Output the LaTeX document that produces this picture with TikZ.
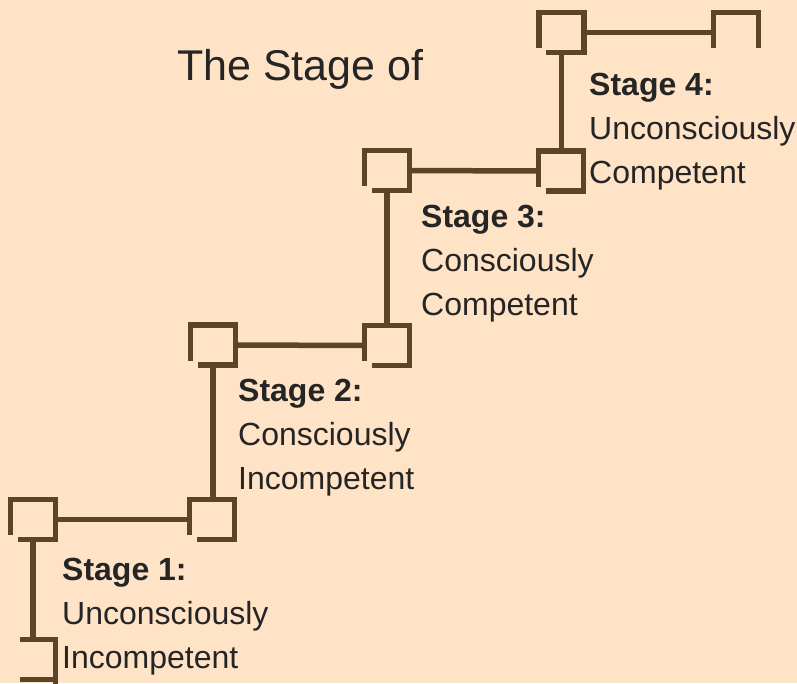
\documentclass[tikz,border=0pt]{standalone}
\usepackage{fontspec}
\setmainfont{Liberation Sans}
\usetikzlibrary{calc}
\definecolor{bgpeach}{HTML}{FFE3C6}
\definecolor{stairbrown}{HTML}{5C4426}
\definecolor{txtgray}{HTML}{252525}
\tikzset{
  sq/.style={draw=none, inner sep=0pt, minimum width=45pt, minimum height=40pt},
  stair/.style={draw=stairbrown, line width=5.5pt, line cap=rect},
  link/.style={draw=stairbrown, line width=5.5pt},
  lbl/.style={anchor=base west, inner sep=0pt, text=txtgray, font=\fontsize{32}{38}\selectfont},
  lblb/.style={lbl, font=\fontsize{32}{38}\selectfont\bfseries},
  ttl/.style={anchor=base west, inner sep=0pt, text=txtgray, font=\fontsize{43}{50}\selectfont}
}
\newcommand\stairbox[1]{%
  \draw[stair] (#1.north west) -- (#1.north east);
  \draw[stair] (#1.north west) -- ($(#1.north west)+(0,33)$);
  \draw[stair] (#1.north east) -- (#1.south east);
  \draw[stair] ($(#1.south west)+(10,0)$) -- (#1.south east);
}
\begin{document}
\begin{tikzpicture}[x=1pt,y=-1pt]
\fill[bgpeach] (0,0) rectangle (797,683);
\useasboundingbox (0,0) rectangle (797,683);

% squares
\node[sq] (s0) at (33,659.5) {};
\node[sq] (s1l) at (33,519.5) {};
\node[sq] (s1r) at (212,519.5) {};
\node[sq] (s2l) at (213,345) {};
\node[sq] (s2r) at (387,345.5) {};
\node[sq] (s3l) at (387,170.5) {};
\node[sq] (s3r) at (561,171) {};
\node[sq] (s4l) at (561.5,32.5) {};
\node[sq] (s4r) at (736,32.5) {};

\stairbox{s1l}
\stairbox{s1r}
\stairbox{s2l}
\stairbox{s2r}
\stairbox{s3l}
\stairbox{s3r}
\stairbox{s4l}
% bottom partial square
\draw[stair] ($(s0.north west)+(12,0)$) -- (s0.north east);
\draw[stair] (s0.north east) -- ($(s0.south east)+(0,6)$);
\draw[stair] ($(s0.south west)+(12,0)$) -- (s0.south east);
% top right partial square
\draw[stair] (s4r.north west) -- (s4r.north east);
\draw[stair] (s4r.north west) -- ($(s4r.north west)+(0,33)$);
\draw[stair] (s4r.north east) -- ($(s4r.north east)+(0,33)$);

% connectors
\draw[link] (s1l.east) -- (s1r.west);
\draw[link] (s2l.east) -- (s2r.west);
\draw[link] (s3l.east) -- (s3r.west);
\draw[link] (s4l.east) -- (s4r.west);
\draw[link] (s1l.south) -- (s1l.south |- s0.north);
\draw[link] (s2l.south) -- (s2l.south |- s1r.north);
\draw[link] (s3l.south) -- (s3l.south |- s2r.north);
\draw[link] (s4l.south) -- (s4l.south |- s3r.north);

% title
\node[ttl] (title) at (177,80) {The Stage of};

% labels
\node[lblb] (l1a) at (62,580) {Stage 1:};
\node[lbl] (l1b) at (62,624) {Unconsciously};
\node[lbl] (l1c) at (62,668) {Incompetent};

\node[lblb] (l2a) at (238,401) {Stage 2:};
\node[lbl] (l2b) at (238,445) {Consciously};
\node[lbl] (l2c) at (238,489) {Incompetent};

\node[lblb] (l3a) at (421,227) {Stage 3:};
\node[lbl] (l3b) at (421,271) {Consciously};
\node[lbl] (l3c) at (421,315) {Competent};

\node[lblb] (l4a) at (589,95) {Stage 4:};
\node[lbl] (l4b) at (589,139) {Unconsciously};
\node[lbl] (l4c) at (589,183) {Competent};
\end{tikzpicture}
\end{document}
